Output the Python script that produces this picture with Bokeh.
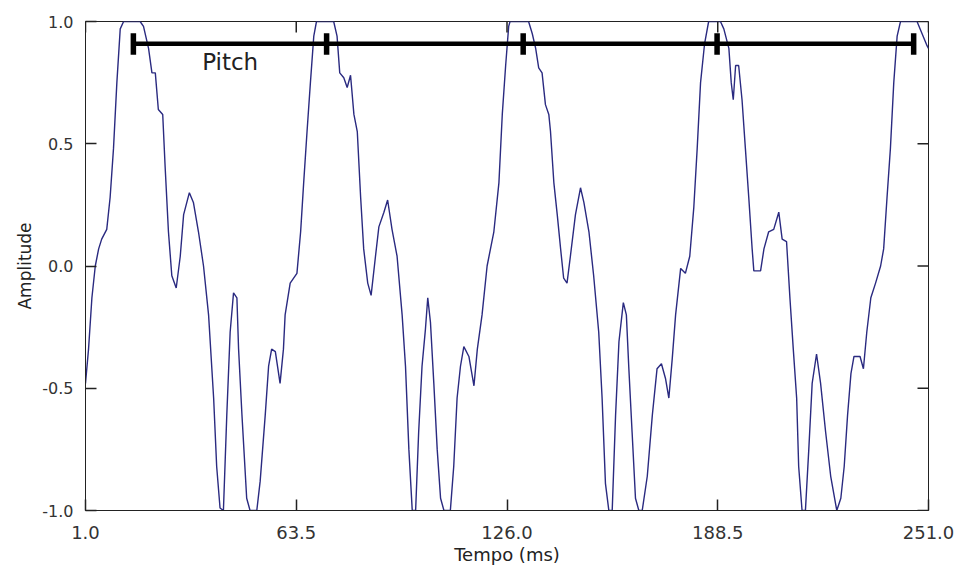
from bokeh.plotting import figure
from bokeh.models import Range1d, FixedTicker, PrintfTickFormatter
from bokeh.core.properties import value
from bokeh.embed import file_html
from bokeh.resources import INLINE

# waveform: time (ms) and amplitude
time_ms = [
    1.0, 1.9, 2.9, 3.9, 4.9, 5.8, 7.3, 8.3, 9.3, 10.3, 11.3, 12.3, 17.2, 18.2, 19.7,
    20.7, 21.7, 22.6, 23.9, 24.6, 25.6, 26.6, 27.9, 29.1, 30.1, 31.8, 33.0, 34.5,
    36.0, 37.5, 39.0, 39.9, 40.9, 41.9, 42.9, 43.9, 44.9, 45.9, 46.4, 47.4, 48.8,
    49.8, 51.8, 52.8, 54.3, 55.3, 56.2, 57.3, 58.7, 59.7, 60.2, 61.7, 63.7, 64.8,
    65.7, 66.7, 67.7, 68.7, 69.5, 74.6, 75.6, 76.4, 77.6, 78.6, 79.6, 80.6, 81.6,
    82.6, 83.5, 84.7, 85.7, 87.0, 88.0, 89.5, 90.6, 91.9, 93.4, 94.9, 95.9, 96.9,
    97.9, 98.9, 99.8, 100.8, 101.8, 102.5, 103.3, 104.3, 105.3, 106.3, 107.3, 109.2,
    110.2, 111.2, 112.2, 113.2, 114.7, 116.2, 117.2, 118.6, 120.1, 121.1, 122.1,
    123.6, 124.6, 125.6, 126.5, 126.9, 132.4, 133.5, 134.5, 135.4, 136.4, 137.4,
    138.4, 138.9, 139.9, 140.9, 141.9, 142.8, 143.8, 144.8, 146.3, 147.8, 148.8,
    150.3, 151.7, 153.2, 154.2, 155.2, 156.2, 157.2, 158.2, 159.2, 160.5, 161.4,
    162.1, 163.1, 164.1, 165.1, 166.1, 167.6, 169.1, 170.5, 171.8, 173.0, 174.0,
    175.0, 176.0, 177.5, 178.9, 180.2, 181.4, 182.4, 183.4, 184.6, 185.8, 189.3,
    190.3, 191.8, 192.5, 193.1, 193.8, 194.7, 195.7, 196.7, 197.7, 198.7, 199.2,
    201.2, 202.2, 203.6, 205.1, 206.6, 207.6, 208.9, 209.9, 210.9, 211.9, 212.5,
    213.5, 214.5, 215.5, 216.5, 217.8, 219.0, 220.5, 222.0, 223.8, 225.0, 226.0,
    227.0, 228.0, 228.9, 230.7, 231.7, 232.7, 233.9, 235.3, 236.8, 237.7, 238.7,
    239.7, 240.7, 241.7, 242.7, 247.6, 249.1, 250.6, 251.0,
]
amplitude = [
    -0.48, -0.34, -0.13, 0.0, 0.07, 0.11, 0.15, 0.28, 0.48, 0.75, 0.97, 1.0, 1.0, 0.98, 0.89,
    0.79, 0.79, 0.64, 0.62, 0.41, 0.14, -0.04, -0.09, 0.04, 0.21, 0.30, 0.26, 0.14,
    0.0, -0.20, -0.54, -0.82, -0.99, -1.0, -0.61, -0.27, -0.11, -0.13, -0.34, -0.61, -0.95,
    -1.0, -1.0, -0.88, -0.61, -0.41, -0.34, -0.35, -0.48, -0.34, -0.20, -0.07, -0.03, 0.14,
    0.34, 0.55, 0.75, 0.94, 1.0, 1.0, 0.94, 0.79, 0.77, 0.73, 0.78, 0.62, 0.55,
    0.28, 0.07, -0.07, -0.12, 0.04, 0.16, 0.22, 0.27, 0.15, 0.04, -0.20, -0.41, -0.75,
    -1.0, -1.0, -0.68, -0.41, -0.26, -0.13, -0.23, -0.48, -0.75, -0.95, -1.0, -1.0,
    -0.82, -0.54, -0.41, -0.33, -0.37, -0.49, -0.34, -0.20, 0.0, 0.07, 0.14,
    0.34, 0.62, 0.82, 0.98, 1.0, 1.0, 0.95, 0.89, 0.81, 0.79, 0.66,
    0.62, 0.55, 0.34, 0.21, 0.07, -0.05, -0.07, 0.04, 0.21, 0.32, 0.26,
    0.14, -0.04, -0.27, -0.54, -0.89, -1.0, -1.0, -0.61, -0.31, -0.15, -0.20,
    -0.41, -0.68, -0.95, -1.0, -1.0, -0.86, -0.61, -0.42, -0.40, -0.46, -0.54,
    -0.38, -0.20, -0.01, -0.03, 0.04, 0.24, 0.48, 0.75, 0.91, 1.0, 1.0,
    0.97, 0.89, 0.75, 0.68, 0.82, 0.82, 0.68, 0.48, 0.28, 0.07, -0.02,
    -0.02, 0.07, 0.14, 0.15, 0.22, 0.11, 0.10, -0.13, -0.34, -0.54, -0.82,
    -1.0, -1.0, -0.75, -0.48, -0.36, -0.48, -0.68, -0.86, -1.0, -0.95, -0.82,
    -0.61, -0.44, -0.37, -0.37, -0.42, -0.27, -0.13, -0.07, 0.0, 0.07, 0.28,
    0.48, 0.75, 0.94, 1.0, 1.0, 0.95, 0.90, 0.89,
]

# pitch period markers (ms) and bar level
pitch_marks = [15.2, 72.5, 130.8, 188.3, 246.6]
pitch_level = 0.909
pitch_label = "Pitch"

x_ticks = [1.0, 63.5, 126.0, 188.5, 251.0]
y_ticks = [-1.0, -0.5, 0.0, 0.5, 1.0]
x_min, x_max = 1.0, 251.0
y_min, y_max = -1.0, 1.0

FONT = "DejaVu Sans"
AX = "#222222"
FRAME_W, FRAME_H = 843, 489
TICK_PX = 11

p = figure(
    frame_width=FRAME_W, frame_height=FRAME_H,
    x_range=Range1d(x_min, x_max), y_range=Range1d(y_min, y_max),
    output_backend="svg", toolbar_location=None,
    min_border_left=85, min_border_right=29, min_border_top=21, min_border_bottom=59,
)
p.background_fill_color = "white"
p.border_fill_color = "white"
p.outline_line_color = AX
p.grid.visible = False

p.line(time_ms, amplitude, line_color="#2a2a80", line_width=1.4)

# pitch bar
p.segment(x0=[pitch_marks[0]], y0=[pitch_level], x1=[pitch_marks[-1]], y1=[pitch_level],
          line_color="black", line_width=4.5)
p.segment(x0=pitch_marks, y0=[pitch_level + 0.043] * len(pitch_marks),
          x1=pitch_marks, y1=[pitch_level - 0.045] * len(pitch_marks),
          line_color="black", line_width=5.5)
p.text(x=[43.9], y=[0.833], text=[pitch_label], text_font=value(FONT),
       text_font_size="23px", text_color="#222222", text_align="center",
       text_baseline="middle")

# inward ticks on the top and right frame edges, at the same tick values
dy = TICK_PX * (y_max - y_min) / FRAME_H
dx = TICK_PX * (x_max - x_min) / FRAME_W
p.segment(x0=x_ticks, y0=[y_max] * len(x_ticks), x1=x_ticks, y1=[y_max - dy] * len(x_ticks),
          line_color=AX, line_width=1.5)
p.segment(x0=[x_max] * len(y_ticks), y0=y_ticks, x1=[x_max - dx] * len(y_ticks), y1=y_ticks,
          line_color=AX, line_width=1.5)

xa = p.xaxis[0]
ya = p.yaxis[0]
for ax in (xa, ya):
    ax.axis_line_color = AX
    ax.major_tick_line_color = AX
    ax.major_tick_line_width = 1.5
    ax.major_tick_in = TICK_PX
    ax.major_tick_out = 0
    ax.minor_tick_line_color = None
    ax.major_label_text_font = FONT
    ax.major_label_text_color = "#333333"
    ax.formatter = PrintfTickFormatter(format="%.1f")
    ax.axis_label_text_font = FONT
    ax.axis_label_text_font_style = "normal"
    ax.axis_label_text_color = "#222222"
    ax.axis_label_standoff = 2

xa.ticker = FixedTicker(ticks=x_ticks)
xa.major_label_text_font_size = "18px"
xa.major_label_standoff = 15
xa.axis_label = "Tempo (ms)"
xa.axis_label_text_font_size = "18px"

ya.ticker = FixedTicker(ticks=y_ticks)
ya.major_label_text_font_size = "16px"
ya.major_label_standoff = 12
ya.axis_label = "Amplitude"
ya.axis_label_text_font_size = "17px"
ya.axis_label_standoff = 4

open("out.html", "w").write(file_html(p, INLINE))
